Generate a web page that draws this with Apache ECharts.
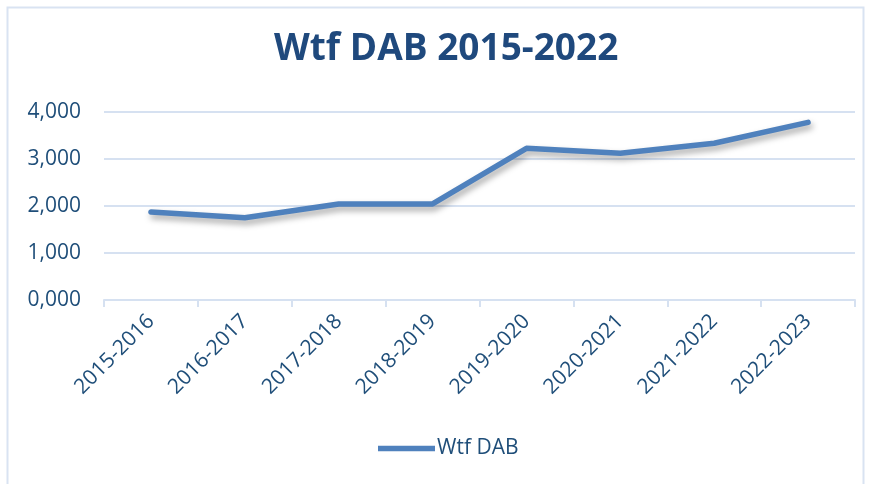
<!DOCTYPE html>
<html>
<head>
<meta charset="utf-8">
<script src="https://cdn.jsdelivr.net/npm/echarts@6/dist/echarts.min.js"></script>
<style>
  html, body { margin: 0; padding: 0; background: #fff; }
  #chart { width: 870px; height: 484px; }
</style>
</head>
<body>
<div id="chart"></div>
<script>
'use strict';
var seasons = ['2015-2016', '2016-2017', '2017-2018', '2018-2019', '2019-2020', '2020-2021', '2021-2022', '2022-2023'];
var wtfDab = [1.872, 1.751, 2.043, 2.043, 3.227, 3.121, 3.334, 3.780];
var yTicks = [0, 1, 2, 3, 4];

var textColor = '#1f4e79';
var gridColor = '#d6e1f1';
var myChart = echarts.init(document.getElementById('chart'));
var option = {
	backgroundColor: '#fff',
	animation: false,
	graphic: [{
		type: 'rect',
		shape: { x: 7.5, y: 7.5, width: 856, height: 490 },
		style: { fill: 'none', stroke: '#d9e3f2', lineWidth: 2 }
	}],
	title: {
		text: 'Wtf DAB 2015-2022',
		left: 274,
		top: 31,
		padding: 0,
		textStyle: {
			fontFamily: 'Open Sans',
			fontWeight: 'bold',
			fontSize: 37,
			color: '#1f497d'
		}
	},
	legend: {
		bottom: 20,
		left: 373,
		icon: 'path://M0,0 L10,0 L10,1 L0,1 Z',
		itemWidth: 57,
		itemHeight: 6,
		itemGap: 4,
		data: ['Wtf DAB'],
		textStyle: { fontFamily: 'Open Sans', fontSize: 21, color: textColor, padding: [0, 0, 0, -3] }
	},
	grid: {
		left: 104,
		right: 15,
		top: 112,
		bottom: 184
	},
	xAxis: {
		type: 'category',
		data: seasons,
		axisLine: { lineStyle: { color: gridColor, width: 2 } },
		axisTick: { show: true, length: 7, lineStyle: { color: gridColor, width: 2 } },
		axisLabel: {
			rotate: 45,
			margin: 18,
			fontFamily: 'Open Sans',
			fontSize: 21,
			color: textColor
		}
	},
	yAxis: {
		type: 'value',
		min: yTicks[0],
		max: yTicks[yTicks.length - 1],
		interval: 1,
		axisLine: { show: false },
		axisTick: { show: false },
		splitLine: { lineStyle: { color: gridColor, width: 2 } },
		axisLabel: {
			margin: 23,
			fontFamily: 'Open Sans',
			fontSize: 21,
			color: textColor,
			formatter: function (v) {
				return v.toFixed(3).replace('.', ',');
			}
		}
	},
	series: [{
		name: 'Wtf DAB',
		type: 'line',
		data: wtfDab,
		symbol: 'none',
		itemStyle: { color: '#4f81bd' },
		lineStyle: {
			color: '#4f81bd',
			width: 5.5,
			cap: 'round',
			join: 'round',
			shadowColor: 'rgba(0,0,0,0.35)',
			shadowBlur: 6,
			shadowOffsetX: 2,
			shadowOffsetY: 4
		}
	}]
};
myChart.setOption(option);
</script>
</body>
</html>
